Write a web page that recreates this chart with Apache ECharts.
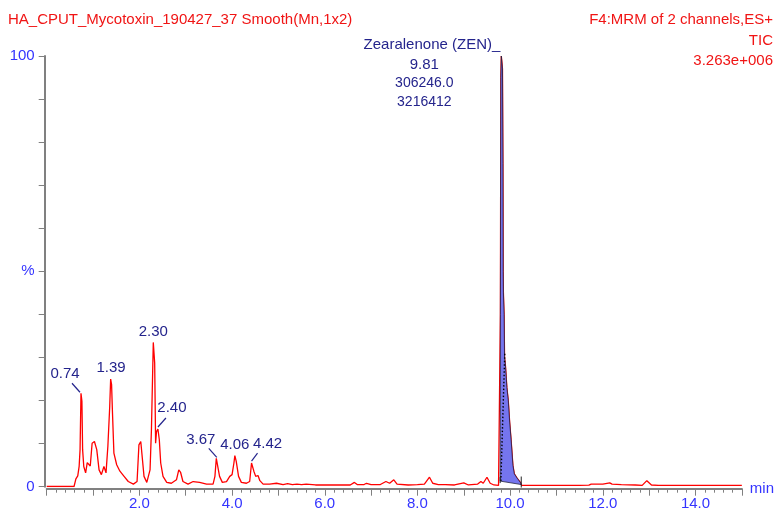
<!DOCTYPE html>
<html>
<head>
<meta charset="utf-8">
<script src="https://cdn.jsdelivr.net/npm/echarts@6/dist/echarts.min.js"></script>
<style>
html,body{margin:0;padding:0;background:#fff;}
#chart{width:777px;height:514px;}
</style>
</head>
<body>
<div id="chart"></div>
<script>
// ---------- data ----------
const times = [
 0.00,0.59,0.63,0.67,0.70,0.72,0.74,0.76,0.775,0.80,0.84,0.875,0.91,0.94,0.98,1.03,1.08,1.13,1.18,1.235,1.28,1.32,1.36,1.38,1.40,1.42,1.45,1.51,1.58,1.67,1.76,1.87,1.95,1.99,2.03,2.06,2.10,2.16,2.23,2.26,2.30,2.33,2.35,2.37,2.40,2.43,2.46,2.51,2.59,2.69,2.80,2.85,2.89,2.94,3.05,3.16,3.30,3.45,3.59,3.63,3.66,3.70,3.73,3.79,3.88,3.95,4.00,4.04,4.06,4.09,4.14,4.20,4.31,4.38,4.42,4.44,4.47,4.51,4.56,4.60,4.67,4.81,4.96,
 5.10,5.20,5.30,5.40,5.50,5.60,5.80,6.00,6.20,6.40,6.55,6.64,6.70,6.85,6.90,7.00,7.20,7.32,7.40,7.49,7.56,7.80,8.00,8.15,8.26,8.33,8.45,8.60,8.80,9.00,9.10,9.30,9.37,9.42,9.50,9.57,9.65,9.75,
 9.785,9.79,9.80,9.81,9.835,9.845,9.85,9.855,9.87,9.88,9.90,9.93,9.96,9.99,10.02,10.06,10.09,10.15,10.22,10.25,
 10.50,11.00,11.50,11.70,11.75,12.00,12.15,12.20,12.40,12.70,12.85,12.95,13.05,13.20,14.00,15.00
];
const intensity = [
 0.05,0.05,1.8,2.5,4.7,8.6,21.7,19.8,8.6,4.7,3.2,5.6,5.9,4.8,10.1,10.5,8.6,3.9,2.8,4.7,3.2,9.4,18.6,25.0,23.7,17.0,7.8,5.1,3.6,2.4,1.2,0.6,1.2,9.7,10.5,7.0,2.4,1.0,3.9,13.2,33.5,28.7,10.1,12.8,13.4,10.9,5.5,2.4,1.0,0.8,1.6,3.9,3.3,1.2,0.6,1.2,1.0,0.6,0.6,2.4,6.6,6.2,2.4,1.0,1.2,2.4,2.8,5.5,7.2,5.9,2.4,1.0,0.8,1.2,5.5,5.7,3.6,2.4,2.6,1.4,0.6,0.6,0.8,
 0.5,0.7,0.5,0.6,0.5,0.6,0.4,0.4,0.4,0.4,0.4,1.0,0.5,0.5,0.8,0.5,0.5,1.2,0.8,1.6,0.6,0.4,0.5,0.6,2.2,0.8,0.5,0.5,0.4,0.9,0.4,0.6,1.2,0.8,2.2,0.8,0.4,0.3,
 0.3,40,95,100,97,75,50,45,40,30,28,23,20,15,11,5,3,2,1,0.3,
 0.3,0.3,0.3,0.35,0.6,0.6,0.9,0.6,0.5,0.4,0.3,1.4,0.4,0.3,0.3,0.3
];
const peakTimes   = [0.74, 1.39, 2.30, 2.40, 3.67, 4.06, 4.42];
const peakHeights = [21.7, 25.0, 33.5, 13.4, 6.6, 7.2, 5.7];
const peakLabels  = ['0.74','1.39','2.30','2.40','3.67','4.06','4.42'];

const zenName = 'Zearalenone (ZEN)';
const zenRT = 9.81;
const zenHeightPct = 100;
const zenArea = '306246.0';
const zenHeight = '3216412';
const zenStart = 9.785, zenEnd = 10.24;
const zenBaseStart = 1.3, zenBaseEnd = 0.5;

const titleLeft = 'HA_CPUT_Mycotoxin_190427_37 Smooth(Mn,1x2)';
const titleRight = ['F4:MRM of 2 channels,ES+', 'TIC', '3.263e+006'];
const xTickLabels = ['2.0','4.0','6.0','8.0','10.0','12.0','14.0'];

// ---------- styles ----------
const FONT = '"Liberation Sans", Arial, sans-serif';
const RED = '#f01414';
const BLUE = '#3434ff';
const NAVY = '#24248c';
const AXIS = '#808080';

const labelOffsets = [
  {dx:-16, dy:-19, lead:[[-1,-1],[-9,-10]]},
  {dx:0, dy:-11},
  {dx:0, dy:-11},
  {dx:14, dy:-21, lead:[[0,-2],[8,-11]]},
  {dx:-16, dy:-18, lead:[[0,-1],[-8,-10]]},
  {dx:0, dy:-11},
  {dx:16, dy:-18, lead:[[0,-1],[6,-9]]}
];

const chart = echarts.init(document.getElementById('chart'), null, {renderer:'canvas'});

const lineData = times.map((t,i)=>[t, intensity[i]]);

const rightTitleTops = [12, 33, 53];

const option = {
  animation:false,
  backgroundColor:'#fff',
  grid:{left:46.7, right:34.3, top:56, bottom:27.3, containLabel:false},
  graphic:[
    {type:'text', left:8, top:12, style:{text:titleLeft, font:'15px '+FONT, fill:RED}}
  ].concat(titleRight.map((t,i)=>({type:'text', right:4, top:rightTitleTops[i], style:{text:t, font:'15px '+FONT, fill:RED}}))),
  xAxis:{
    type:'value', min:0, max:15, interval:1, offset:2,
    name:'min', nameLocation:'end', nameGap:8,
    nameTextStyle:{color:BLUE, fontSize:15, fontFamily:FONT, verticalAlign:'middle'},
    axisLine:{show:true, onZero:false, lineStyle:{color:AXIS, width:2}},
    axisTick:{show:true, length:7, lineStyle:{color:AXIS, width:1}},
    minorTick:{show:true, splitNumber:5, length:4, lineStyle:{color:AXIS, width:1}},
    splitLine:{show:false},
    axisLabel:{color:BLUE, fontSize:15, fontFamily:FONT, margin:8, showMinLabel:true, showMaxLabel:true,
      formatter:(v)=>{ const s=v.toFixed(1); return xTickLabels.indexOf(s)>=0 ? s : ''; }}
  },
  yAxis:{
    type:'value', min:0, max:100, interval:10, offset:2,
    axisLine:{show:true, onZero:false, lineStyle:{color:AXIS, width:2}},
    axisTick:{show:true, length:6, lineStyle:{color:AXIS, width:1}},
    splitLine:{show:false},
    axisLabel:{color:BLUE, fontSize:15, fontFamily:FONT, margin:10,
      formatter:(v)=> v===0 ? '0' : (v===50 ? '%' : (v===100 ? '100' : ''))}
  },
  series:[
    {
      type:'line', data:lineData, showSymbol:false, symbol:'none',
      lineStyle:{color:'#ff0000', width:1.3}, z:3, silent:true
    },
    {
      type:'custom', data:[0], z:4, silent:true,
      renderItem:(params, api)=>{
        const pts = [api.coord([zenStart, zenBaseStart])];
        for(let i=0;i<times.length;i++){
          if(times[i]>zenStart && times[i]<zenEnd) pts.push(api.coord([times[i], intensity[i]]));
        }
        pts.push(api.coord([zenEnd, zenBaseEnd]));
        const s = api.coord([zenStart, zenBaseStart]);
        const e = api.coord([zenEnd, zenBaseEnd]);
        const d1 = api.coord([9.80, zenBaseStart]);
        const d2 = api.coord([9.885, 31]);
        const apex = api.coord([zenRT, zenHeightPct]);
        return {type:'group', children:[
          {type:'polygon', shape:{points:pts}, style:{fill:'#7575ee', stroke:'#202040', lineWidth:0.8}},
          {type:'line', shape:{x1:d1[0],y1:d1[1],x2:d2[0],y2:d2[1]}, style:{stroke:'#000', lineWidth:1.4, lineDash:[1.5,2]}},
          {type:'line', shape:{x1:s[0],y1:s[1]-4,x2:s[0],y2:s[1]+2}, style:{stroke:'#222', lineWidth:1}},
          {type:'line', shape:{x1:e[0],y1:e[1]-8,x2:e[0],y2:e[1]+3}, style:{stroke:'#222', lineWidth:1}},
          {type:'text', x:apex[0]-1, y:apex[1]-11, style:{text:zenName+'_', font:'15px '+FONT, fill:NAVY, align:'right', verticalAlign:'middle'}},
          {type:'text', x:apex[0]-77, y:apex[1]+9, style:{text:zenRT.toFixed(2), font:'15px '+FONT, fill:NAVY, align:'center', verticalAlign:'middle'}},
          {type:'text', x:apex[0]-77, y:apex[1]+27.5, style:{text:zenArea, font:'14px '+FONT, fill:NAVY, align:'center', verticalAlign:'middle'}},
          {type:'text', x:apex[0]-77, y:apex[1]+46, style:{text:zenHeight, font:'14px '+FONT, fill:NAVY, align:'center', verticalAlign:'middle'}}
        ]};
      }
    },
    {
      type:'custom', data:peakTimes.map((t,i)=>[t, peakHeights[i], i]), z:5, silent:true,
      renderItem:(params, api)=>{
        const i = api.value(2);
        const p = api.coord([api.value(0), api.value(1)]);
        const o = labelOffsets[i];
        const children = [
          {type:'text', x:p[0]+o.dx, y:p[1]+o.dy, style:{text:peakLabels[i], font:'15px '+FONT, fill:NAVY, align:'center', verticalAlign:'middle'}}
        ];
        if(o.lead){
          children.push({type:'line', shape:{x1:p[0]+o.lead[0][0], y1:p[1]+o.lead[0][1], x2:p[0]+o.lead[1][0], y2:p[1]+o.lead[1][1]}, style:{stroke:NAVY, lineWidth:1.2}});
        }
        return {type:'group', children};
      }
    }
  ]
};
chart.setOption(option);
</script>
</body>
</html>
